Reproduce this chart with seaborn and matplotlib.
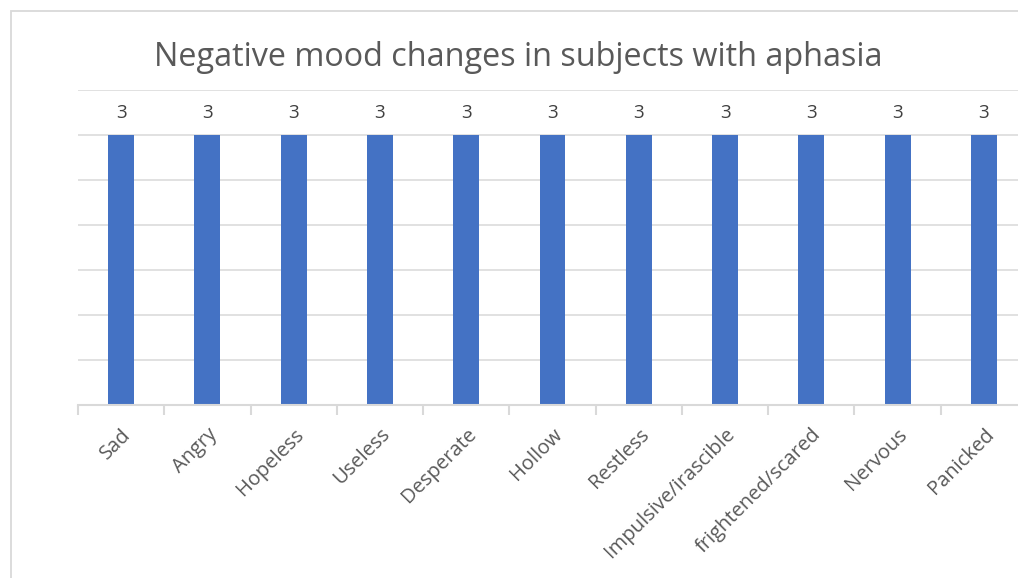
import matplotlib
matplotlib.use("Agg")
import matplotlib.pyplot as plt
import seaborn as sns
import pandas as pd
import numpy as np
from matplotlib.patches import Rectangle

categories = ["Sad", "Angry", "Hopeless", "Useless", "Desperate", "Hollow",
              "Restless", "Impulsive/irascible", "frightened/scared", "Nervous", "Panicked"]
values = [3, 3, 3, 3, 3, 3, 3, 3, 3, 3, 3]
title = "Negative mood changes in subjects with aphasia"

sns.set_theme(style="white")
plt.rcParams['font.family'] = ['Open Sans', 'DejaVu Sans']

df = pd.DataFrame({"cat": categories, "val": values})

fig = plt.figure(figsize=(10.18, 5.78), dpi=100)
W, H = 1018, 578
# outer chart border (cropped at right/bottom)
fig.patches.append(Rectangle((11 / W, -0.1), 1.2, (H - 11) / H + 0.1, transform=fig.transFigure,
                             fill=False, edgecolor="#d9d9d9", linewidth=1.3))

left, right, top, bottom = 78, 1027, 90, 405
ax = fig.add_axes([left / W, (H - bottom) / H, (right - left) / W, (bottom - top) / H])

sns.barplot(data=df, x="cat", y="val", color="#4472C4", width=0.3, ax=ax,
            saturation=1, edgecolor="none")

ax.set_xlim(-0.5, len(categories) - 0.5)
ax.set_ylim(0, 3.5)
ax.set_yticks(np.arange(0, 3.51, 0.5))
ax.set_yticklabels([])
ax.tick_params(axis="y", length=0)
ax.grid(axis="y", color="#d9d9d9", linewidth=1.1)
ax.set_axisbelow(True)
for s in ["top", "right", "left"]:
    ax.spines[s].set_visible(False)
ax.spines["bottom"].set_color("#d9d9d9")
ax.spines["bottom"].set_linewidth(1.5)

ax.set_xticks(range(len(categories)))
ax.set_xticklabels(categories, rotation=45, ha="right", rotation_mode="anchor",
                   fontsize=14.5, color="#595959")
ax.tick_params(axis="x", which="major", length=0, pad=14)
ax.set_xticks(np.arange(-0.5, len(categories), 1), minor=True)
ax.tick_params(axis="x", which="minor", length=7, width=1.5, color="#d9d9d9", bottom=True)
ax.set_xlabel("")
ax.set_ylabel("")

for c in ax.containers:
    ax.bar_label(c, labels=[str(v) for v in values], padding=9, fontsize=13.5, color="#404040")

fig.text(518.5 / W, (H - 58) / H, title, ha="center", va="center", fontsize=23.3, color="#595959")

fig.savefig("out.png", dpi=100, facecolor="white")
